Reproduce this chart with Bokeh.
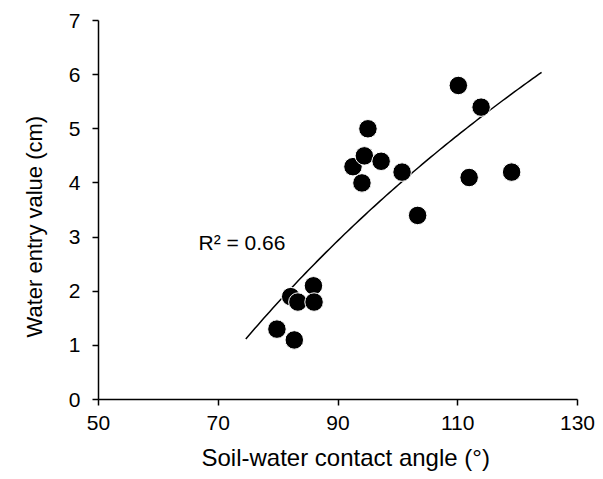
import numpy as np
from bokeh.plotting import figure
from bokeh.models import ColumnDataSource, FixedTicker, Label, Title
from bokeh.embed import file_html
from bokeh.resources import INLINE

# Data
contact_angle = [79.8, 82.7, 82.1, 83.3, 85.9, 86.0, 92.5, 94.0, 94.4, 95.0,
                 97.2, 100.7, 103.3, 110.1, 111.9, 113.9, 119.0]
water_entry = [1.3, 1.1, 1.9, 1.8, 2.1, 1.8, 4.3, 4.0, 4.5, 5.0,
               4.4, 4.2, 3.4, 5.8, 4.1, 5.4, 4.2]
trend_start = 74.6
trend_end = 124.0
x_ticks = [50, 70, 90, 110, 130]
y_ticks = [0, 1, 2, 3, 4, 5, 6, 7]
r2_label = "R² = 0.66"
x_title = "Soil-water contact angle (°)"
y_title = "Water entry value (cm)"

# logarithmic trendline fitted to the data
xa = np.array(contact_angle)
ya = np.array(water_entry)
a, b = np.polyfit(np.log(xa), ya, 1)
tx = np.linspace(trend_start, trend_end, 100)
ty = a * np.log(tx) + b

FONT = "Liberation Sans"

p = figure(width=603, height=479, x_range=(50, 130), y_range=(0, 7),
           output_backend="svg", toolbar_location=None,
           min_border_left=98, min_border_right=26,
           min_border_top=20, min_border_bottom=80)
p.outline_line_color = None
p.xgrid.visible = False
p.ygrid.visible = False

p.line(tx, ty, line_color="black", line_width=1.5)
src = ColumnDataSource(dict(x=contact_angle, y=water_entry))
p.scatter("x", "y", source=src, size=18.5, fill_color="black",
          line_color="white", line_width=1)

p.add_layout(Label(x=66.7, y=2.905, text=r2_label, text_font=FONT,
                   text_font_size="21px", text_color="black",
                   text_baseline="alphabetic"))

for ax in (p.xaxis[0], p.yaxis[0]):
    ax.axis_line_color = "black"
    ax.axis_line_width = 1.5
    ax.major_tick_line_color = "black"
    ax.major_tick_line_width = 1.5
    ax.major_tick_in = 0
    ax.major_tick_out = 6
    ax.minor_tick_line_color = None
    ax.major_label_text_font = FONT
    ax.major_label_text_font_size = "21px"
    ax.major_label_text_color = "black"

p.xaxis[0].ticker = FixedTicker(ticks=x_ticks)
p.yaxis[0].ticker = FixedTicker(ticks=y_ticks)
p.xaxis[0].major_label_standoff = 10
p.yaxis[0].major_label_standoff = 12

# axis titles as side titles (left-aligned with an offset, as in the reference)
p.add_layout(Title(text=x_title, align="left", offset=103, text_font=FONT,
                   text_font_size="24px", text_font_style="normal",
                   text_color="black", standoff=18, text_line_height=0.6),
             "below")
p.add_layout(Title(text=y_title, align="left", offset=62, text_font=FONT,
                   text_font_size="22px", text_font_style="normal",
                   text_color="black", standoff=38, text_line_height=0.6),
             "left")

open("out.html", "w").write(file_html(p, INLINE))
